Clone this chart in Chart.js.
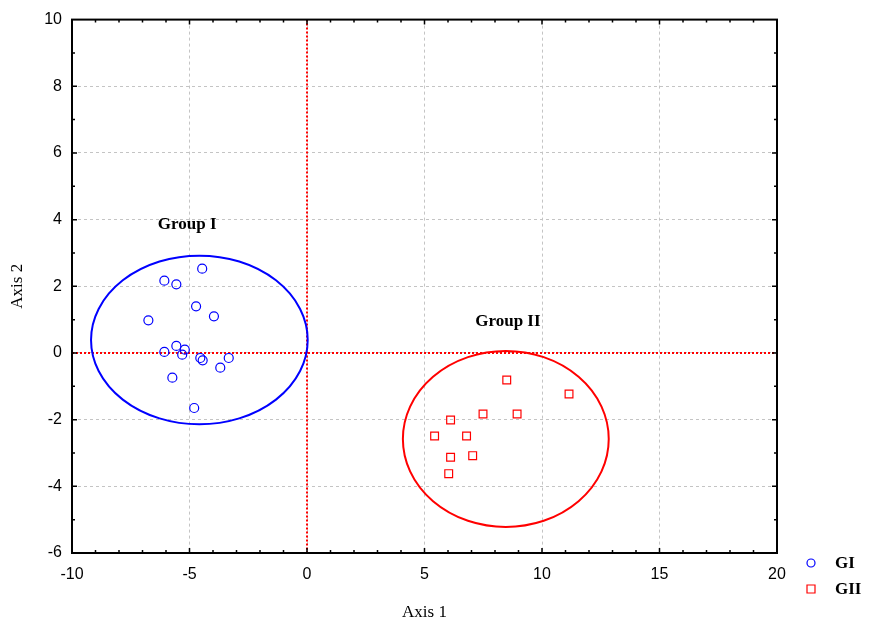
<!DOCTYPE html>
<html>
<head>
<meta charset="utf-8">
<script src="https://cdn.jsdelivr.net/npm/chart.js@4"></script>
<style>
  html, body { margin: 0; padding: 0; background: #fff; }
  #wrap { width: 870px; height: 624px; }
</style>
</head>
<body>
<div id="wrap"><canvas id="scatter"></canvas></div>
<script>
// group I (circles)
var g1X = [-4.46, -6.07, -5.56, -4.72, -3.96, -6.75, -5.56, -5.20, -6.07, -5.31, -4.54, -4.44, -3.33, -3.69, -5.73, -4.80];
var g1Y = [2.53, 2.17, 2.06, 1.40, 1.10, 0.98, 0.21, 0.10, 0.03, -0.05, -0.15, -0.22, -0.15, -0.44, -0.74, -1.65];
// group II (squares)
var g2X = [8.50, 11.15, 7.49, 8.94, 6.11, 5.43, 6.79, 7.05, 6.11, 6.03];
var g2Y = [-0.81, -1.23, -1.83, -1.83, -2.01, -2.49, -2.49, -3.08, -3.13, -3.62];

var groupNames = ['GI', 'GII'];
var groupColors = ['#0000ff', '#ff0000'];

// ellipses round each group: centre x, centre y, half width, half height (data units)
var ellCX = [-4.58, 8.46];
var ellCY = [0.39, -2.58];
var ellRX = [4.61, 4.38];
var ellRY = [2.53, 2.64];

// group captions
var capText = ['Group I', 'Group II'];
var capX = [-5.1, 8.55];
var capY = [3.85, 0.95];

var xMin = -10, xMax = 20, yMin = -6, yMax = 10;

function pts(xs, ys) {
  return xs.map(function (x, i) { return { x: x, y: ys[i] }; });
}

var extras = {
  id: 'extras',
  beforeDatasetsDraw: function (chart) {
    var ctx = chart.ctx, a = chart.chartArea;
    var xs = chart.scales.x, ys = chart.scales.y;
    ctx.save();
    // red dotted zero lines
    ctx.strokeStyle = '#ff0000';
    ctx.lineWidth = 2;
    ctx.setLineDash([2, 2]);
    var x0 = xs.getPixelForValue(0), y0 = ys.getPixelForValue(0);
    ctx.beginPath();
    ctx.moveTo(x0, a.top); ctx.lineTo(x0, a.bottom);
    ctx.moveTo(a.left, y0); ctx.lineTo(a.right, y0);
    ctx.stroke();
    ctx.setLineDash([]);
    // ellipses
    for (var i = 0; i < ellCX.length; i++) {
      var cx = xs.getPixelForValue(ellCX[i]);
      var cy = ys.getPixelForValue(ellCY[i]);
      var rx = Math.abs(xs.getPixelForValue(ellCX[i] + ellRX[i]) - cx);
      var ry = Math.abs(ys.getPixelForValue(ellCY[i] + ellRY[i]) - cy);
      ctx.strokeStyle = groupColors[i];
      ctx.lineWidth = 2;
      ctx.beginPath();
      ctx.ellipse(cx, cy, rx, ry, 0, 0, Math.PI * 2);
      ctx.stroke();
    }
    // captions
    ctx.fillStyle = '#000';
    ctx.font = 'bold 17px "Liberation Serif", serif';
    ctx.textAlign = 'center';
    ctx.textBaseline = 'middle';
    for (var j = 0; j < capText.length; j++) {
      ctx.fillText(capText[j], xs.getPixelForValue(capX[j]), ys.getPixelForValue(capY[j]));
    }
    ctx.restore();
  },
  afterDraw: function (chart) {
    var ctx = chart.ctx, a = chart.chartArea;
    var xs = chart.scales.x, ys = chart.scales.y;
    ctx.save();
    // frame
    ctx.strokeStyle = '#000';
    ctx.lineWidth = 2;
    ctx.strokeRect(a.left, a.top, a.right - a.left, a.bottom - a.top);
    // inward ticks
    ctx.lineWidth = 1.5;
    ctx.beginPath();
    for (var v = xMin + 1; v < xMax; v++) {
      var px = xs.getPixelForValue(v), len = (v % 5 === 0) ? 5 : 3;
      ctx.moveTo(px, a.bottom); ctx.lineTo(px, a.bottom - len);
      ctx.moveTo(px, a.top); ctx.lineTo(px, a.top + len);
    }
    for (var w = yMin + 1; w < yMax; w++) {
      var py = ys.getPixelForValue(w), l2 = (w % 2 === 0) ? 5 : 3;
      ctx.moveTo(a.left, py); ctx.lineTo(a.left + l2, py);
      ctx.moveTo(a.right, py); ctx.lineTo(a.right - l2, py);
    }
    ctx.stroke();
    // legend
    var lx = 811, ly = [563, 589];
    ctx.lineWidth = 1.2;
    ctx.font = 'bold 17px "Liberation Serif", serif';
    ctx.textAlign = 'left';
    ctx.textBaseline = 'middle';
    for (var k = 0; k < groupNames.length; k++) {
      ctx.strokeStyle = groupColors[k];
      ctx.beginPath();
      if (k === 0) ctx.arc(lx, ly[k], 4, 0, Math.PI * 2);
      else ctx.rect(lx - 4, ly[k] - 4, 8, 8);
      ctx.stroke();
      ctx.fillStyle = '#000';
      ctx.fillText(groupNames[k], 835, ly[k] + 1);
    }
    ctx.restore();
  }
};

var gridColor = function (c) {
  return c.tick && c.tick.label !== '' ? '#c4c4c4' : 'rgba(0,0,0,0)';
};

var config = {
  type: 'scatter',
  data: {
    datasets: [{
      label: groupNames[0],
      data: pts(g1X, g1Y),
      pointStyle: 'circle',
      pointRadius: 4.5,
      borderColor: groupColors[0],
      backgroundColor: 'rgba(0,0,0,0)',
      borderWidth: 1.2
    }, {
      label: groupNames[1],
      data: pts(g2X, g2Y),
      pointStyle: 'rect',
      pointRadius: 5.5,
      borderColor: groupColors[1],
      backgroundColor: 'rgba(0,0,0,0)',
      borderWidth: 1.2
    }]
  },
  options: {
    responsive: true,
    maintainAspectRatio: false,
    animation: false,
    layout: { padding: { top: 18, right: 93, left: 0, bottom: 0 } },
    plugins: { legend: { display: false }, tooltip: { enabled: false } },
    scales: {
      x: {
        type: 'linear', min: xMin, max: xMax,
        afterFit: function (s) { s.height = 71; },
        ticks: {
          stepSize: 1, autoSkip: false, maxRotation: 0, padding: 12,
          color: '#000', font: { family: '"Liberation Sans", Arial', size: 16 },
          callback: function (v) { return v % 5 === 0 ? v : ''; }
        },
        grid: { color: gridColor, drawTicks: false, lineWidth: 1 },
        border: { display: false, dash: [3, 3] },
        title: {
          display: true, text: 'Axis 1', color: '#000',
          font: { family: '"Liberation Serif", serif', size: 17 },
          padding: { top: 0, bottom: 1 }
        }
      },
      y: {
        type: 'linear', min: yMin, max: yMax,
        afterFit: function (s) { s.width = 72; },
        ticks: {
          stepSize: 1, autoSkip: false, padding: 10,
          color: '#000', font: { family: '"Liberation Sans", Arial', size: 16 },
          callback: function (v) { return v % 2 === 0 ? v : ''; }
        },
        grid: { color: gridColor, drawTicks: false, lineWidth: 1 },
        border: { display: false, dash: [3, 3] },
        title: {
          display: true, text: 'Axis 2', color: '#000',
          font: { family: '"Liberation Serif", serif', size: 17 },
          padding: { top: 7, bottom: 0 }
        }
      }
    }
  },
  plugins: [extras]
};

var ctx = document.getElementById('scatter').getContext('2d');
var mychart = new Chart(ctx, config);
</script>
</body>
</html>
